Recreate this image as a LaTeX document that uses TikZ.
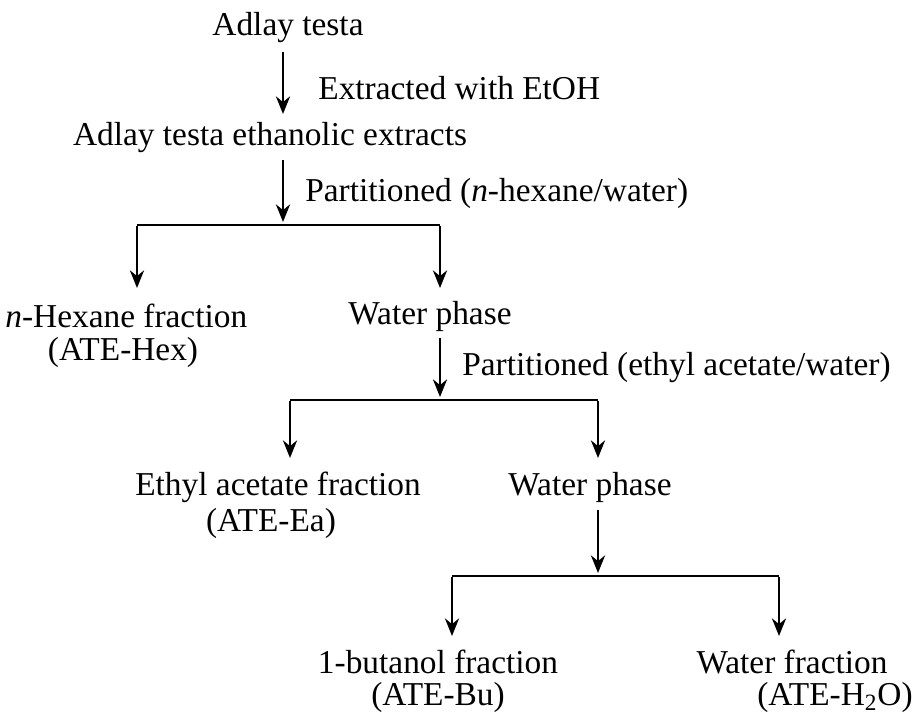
\documentclass[tikz,border=0pt]{standalone}
\usepackage{fontspec}
\setmainfont{Liberation Serif}
\usetikzlibrary{positioning,arrows.meta}

\begin{document}
\begin{tikzpicture}[x=0.02cm,y=-0.02cm,
    txt/.style={inner sep=0pt,font=\fontsize{19}{23}\selectfont},
    flow/.style={line width=1.6pt,-{Stealth[length=10pt,width=8pt]}},
    bar/.style={line width=1.6pt}]
  \useasboundingbox (0,0) rectangle (919,721);
  % main chain
  \node[txt](testa) at (288,28){Adlay testa};
  \node[txt](extr) at (270,138){Adlay testa ethanolic extracts};
  \node[txt,anchor=west] at (318,88){Extracted with EtOH};
  \draw[flow] (283,52) -- (283,114);
  \node[txt,anchor=west] at (305,193){Partitioned (\textit{n}-hexane/water)};
  \coordinate (j1) at (283,225);
  \coordinate (l1) at (137,225);
  \coordinate (r1) at (440,225);
  \draw[flow] (283,160) -- (283,222);
  \draw[bar] (l1) -- (r1);
  \node[txt,anchor=west](hex) at (5,316){\textit{n}-Hexane fraction};
  \node[txt](hexb) at (123,352){(ATE-Hex)};
  \node[txt](wp1) at (430,316){Water phase};
  \draw[flow] ([yshift=-0.8pt]l1) -- (137,288);
  \draw[flow] ([yshift=-0.8pt]r1) -- (440,288);
  % second partition
  \node[txt,anchor=west] at (462,368){Partitioned (ethyl acetate/water)};
  \coordinate (j2) at (440,400);
  \coordinate (l2) at (290,400);
  \coordinate (r2) at (598,400);
  \draw[flow] (440,338) -- (440,397);
  \draw[bar] (l2) -- (r2);
  \draw[flow] ([yshift=-0.8pt]l2) -- (290,458);
  \draw[flow] ([yshift=-0.8pt]r2) -- (598,458);
  \node[txt](ea) at (278,487){Ethyl acetate fraction};
  \node[txt](eab) at (271,523){(ATE-Ea)};
  \node[txt](wp2) at (590,487){Water phase};
  % third partition
  \coordinate (j3) at (598,576);
  \coordinate (l3) at (452,576);
  \coordinate (r3) at (779,576);
  \draw[flow] (598,510) -- (598,573);
  \draw[bar] (l3) -- (r3);
  \draw[flow] ([yshift=-0.8pt]l3) -- (452,636);
  \draw[flow] ([yshift=-0.8pt]r3) -- (779,636);
  \node[txt](bu) at (438,662){1-butanol fraction};
  \node[txt](bub) at (438,697){(ATE-Bu)};
  \node[txt](wf) at (792,662){Water fraction};
  \node[txt](wfb) at (835,697){(ATE-H\textsubscript{2}O)};
\end{tikzpicture}
\end{document}
